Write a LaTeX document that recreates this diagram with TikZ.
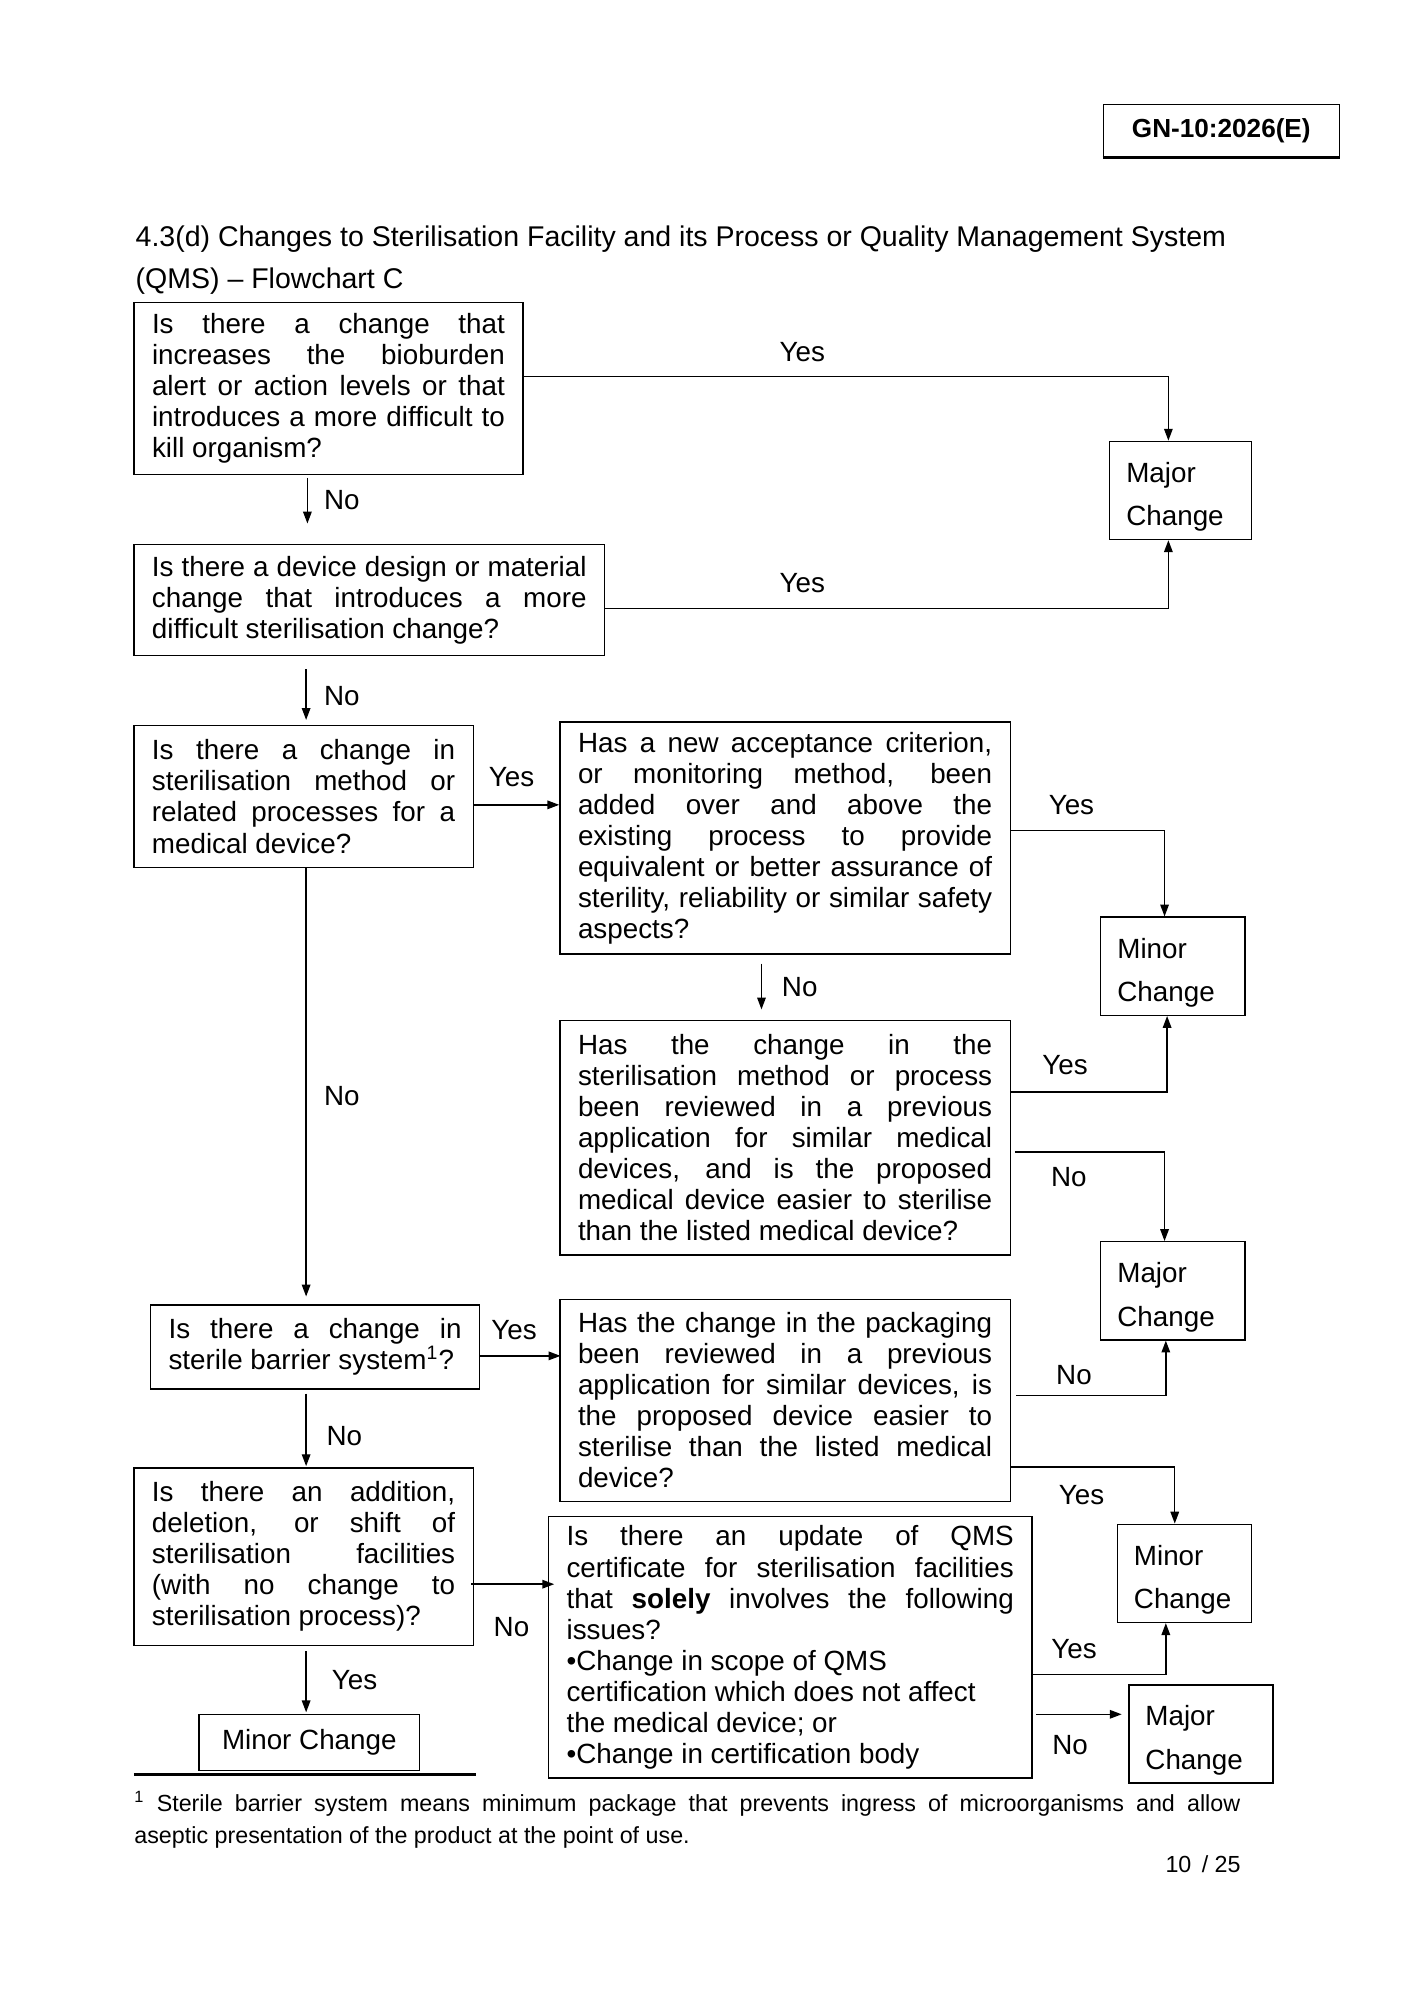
\documentclass[tikz,border=0pt]{standalone}
\usepackage{fontspec}
\setmainfont{Liberation Sans}
\usetikzlibrary{arrows.meta}
\tolerance=9999
\hbadness=10000
\hyphenpenalty=10000

\begin{document}
\begin{tikzpicture}
[x=0.5368pt,y=-0.5368pt,
 qbox/.style={draw,line width=0.6pt,inner xsep=7.6pt,inner ysep=2pt,align=justify,
   font=\fontsize{11.7}{13.05}\selectfont},
 endbox/.style={draw,line width=0.6pt,inner xsep=7pt,inner ysep=2pt,align=left,
   text width=#1,text height=13.8pt,minimum height=41.3pt,font=\fontsize{11.7}{18.25}\selectfont},
 lbl/.style={inner sep=0pt,font=\fontsize{11.7}{13}\selectfont},
 arr/.style={line width=0.6pt,-{Triangle[length=5pt,width=3.6pt]}}]
\useasboundingbox (0,0) rectangle (1109,1568);

% header and title
\node[draw,line width=0.6pt,minimum width=99.3pt,minimum height=22pt,
  font=\fontsize{11}{13}\selectfont\bfseries] (hdr) at (957.5,102.5) {GN-10:2026(E)};
\draw[line width=1.2pt] (hdr.south west) -- (hdr.south east);
\node[anchor=base west,inner sep=0pt,font=\fontsize{12}{13}\selectfont] (title1) at (106,193)
  {4.3(d) Changes to Sterilisation Facility and its Process or Quality Management System};
\node[anchor=base west,inner sep=0pt,font=\fontsize{12}{13}\selectfont] (title2) at (106,226)
  {(QMS) – Flowchart C};

% questions
\node[qbox,text width=148.5pt,minimum height=72.5pt] (q1) at (257.5,304.5)
  {Is there a change that\linebreak increases the bioburden\linebreak alert or action levels or that\linebreak introduces a more difficult to\linebreak kill organism?};
\node[qbox,text width=182.9pt,minimum height=46.7pt] (q2) at (289.5,470.5)
  {Is there a device design or material\linebreak change that introduces a more\linebreak difficult sterilisation change?};
\node[qbox,text width=127.6pt,minimum height=59.6pt] (q3) at (238,624.5)
  {Is there a change in\linebreak sterilisation method or\linebreak related processes for a\linebreak medical device?};
\node[qbox,text width=174.3pt,minimum height=97.7pt] (q4) at (615.5,657)
  {Has a new acceptance criterion,\linebreak or monitoring method, been\linebreak added over and above the\linebreak existing process to provide\linebreak equivalent or better assurance of\linebreak sterility, reliability or similar safety\linebreak aspects?};
\node[qbox,text width=174.3pt,minimum height=98.8pt] (q5) at (615.5,892)
  {Has the change in the\linebreak sterilisation method or process\linebreak been reviewed in a previous\linebreak application for similar medical\linebreak devices, and is the proposed\linebreak medical device easier to sterilise\linebreak than the listed medical device?};
\node[qbox,text width=123.3pt,minimum height=35.4pt] (q6) at (247,1056)
  {Is there a change in\linebreak sterile barrier system\textsuperscript{1}?};
\node[qbox,text width=174.3pt,minimum height=84.8pt] (q7) at (615.5,1098)
  {Has the change in the packaging\linebreak been reviewed in a previous\linebreak application for similar devices, is\linebreak the proposed device easier to\linebreak sterilise than the listed medical\linebreak device?};
\node[qbox,text width=127.6pt,minimum height=74.6pt] (q8) at (238,1220.5)
  {Is there an addition,\linebreak deletion, or shift of\linebreak sterilisation facilities\linebreak (with no change to\linebreak sterilisation process)?};
\node[qbox,text width=188.2pt,minimum height=110pt] (q9) at (619.5,1291.5)
  {Is there an update of QMS\linebreak certificate for sterilisation facilities\linebreak that \textbf{solely} involves the following\linebreak issues?\par
  {\raggedright •Change in scope of QMS\newline certification which does not affect\newline the medical device; or\newline •Change in certification body\par}};

% outcomes
\node[endbox=45.6pt] (maj1) at (925.5,384.5) {Major\\Change};
\node[endbox=46.7pt] (min1) at (919.5,757.5) {Minor\\Change};
\node[endbox=46.7pt] (maj2) at (919.5,1012) {Major\\Change};
\node[endbox=42.4pt] (min2) at (928.5,1233.5) {Minor\\Change};
\node[endbox=46.7pt] (maj3) at (941.5,1359.5) {Major\\Change};
\node[draw,line width=0.6pt,minimum width=92.9pt,minimum height=23.6pt,
  font=\fontsize{11.7}{13}\selectfont] (min3) at (242.5,1366) {Minor Change};

% yes / no labels
\foreach \t/\x/\y [count=\i] in {Yes/629/276,No/268/392,Yes/629/457,No/268/546,
  Yes/401/609,Yes/840/631,No/627/774,No/268/859,Yes/835/835,No/838/923,
  Yes/403/1043,No/842/1078,No/270/1126,Yes/848/1172,No/401/1276,Yes/842/1293,
  Yes/278/1317,No/839/1368}
  \node[lbl] (lab\i) at (\x,\y) {\t};

% connectors
\draw[arr] ([shift={(0,-9.5)}]q1.east) -| ([shift={(-9.5,0)}]maj1.north);
\draw[arr] ([shift={(0,6.5)}]q2.east) -| ([shift={(-9.5,0)}]maj1.south);
\draw[arr] ([shift={(-16.5,2)}]q1.south) -- ([shift={(-48.5,-16)}]q2.north);
\draw[arr] ([shift={(-49.5,10)}]q2.south) -- ([shift={(2,-4)}]q3.north);
\draw[arr] ([shift={(0,6.5)}]q3.east) -- ([shift={(0,-26)}]q4.west);
\draw[arr] ([shift={(0,-6)}]q4.east) -| ([shift={(-6.5,0)}]min1.north);
\draw[arr] ([shift={(-18.5,7)}]q4.south) -- ([shift={(-18.5,-8)}]q5.north);
\draw[arr] ([shift={(0,-36)}]q5.east) -| ([shift={(-4.5,0)}]min1.south);
\draw[arr] ([shift={(3,11)}]q5.east) -| ([shift={(-6.5,0)}]maj2.north);
\draw[arr] ([shift={(2,0)}]q3.south) -- ([shift={(-7,-6)}]q6.north);
\draw[arr] ([shift={(0,7)}]q6.east) -- ([shift={(1,-35)}]q7.west);
\draw[arr] ([shift={(4,-4)}]q7.east) -| ([shift={(-5.5,0)}]maj2.south);
\draw[arr] ([shift={(0,52)}]q7.east) -| ([shift={(-7.5,0)}]min2.north);
\draw[arr] ([shift={(-7,3)}]q6.south) -- ([shift={(2,-1)}]q8.north);
\draw[arr] ([shift={(-2,21.5)}]q8.east) -- ([shift={(5,-49.5)}]q9.west);
\draw[arr] ([shift={(0,21.5)}]q9.east) -| ([shift={(-14.5,0)}]min2.south);
\draw[arr] ([shift={(3,52.5)}]q9.east) -- ([shift={(-5,-15.5)}]maj3.west);
\draw[arr] ([shift={(2,4)}]q8.south) -- ([shift={(-2.5,-1)}]min3.north);

% footnote
\draw[line width=1.1pt] (105,1391) -- (373,1391);
\node[anchor=base west,inner sep=0pt,text width=465.4pt,align=justify,
  font=\fontsize{9.8}{13.4}\selectfont] (fn) at (105,1420)
  {\textsuperscript{1} Sterile barrier system means minimum package that prevents ingress of microorganisms and allow\linebreak aseptic presentation of the product at the point of use.};
\node[anchor=base east,inner sep=0pt,font=\fontsize{9.8}{12}\selectfont] (pg) at (973,1468) {10 \,/ 25};
\end{tikzpicture}
\end{document}
